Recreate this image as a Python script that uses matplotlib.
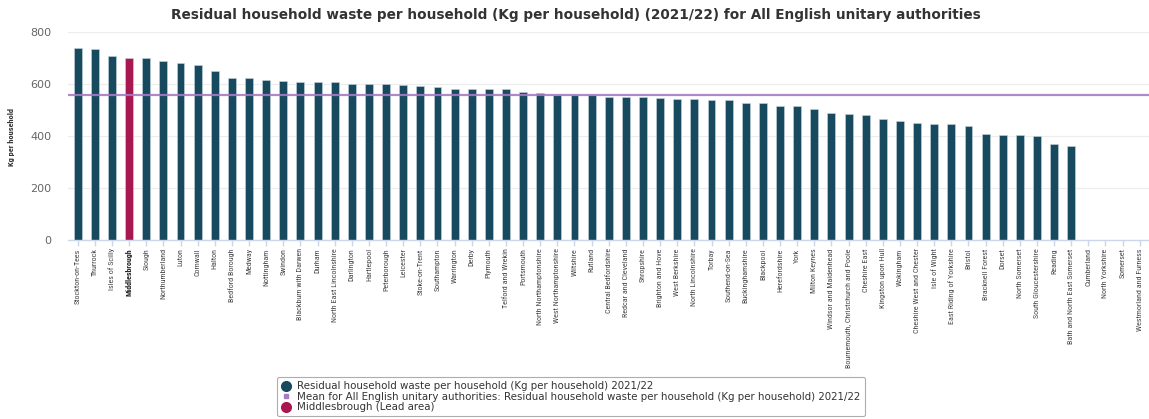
import numpy as np
import matplotlib
matplotlib.use("Agg")
import matplotlib.pyplot as plt
from matplotlib import font_manager as fm
from matplotlib.lines import Line2D

areas = [
    "Stockton-on-Tees", "Thurrock", "Isles of Scilly", "Middlesbrough", "Slough",
    "Northumberland", "Luton", "Cornwall", "Halton", "Bedford Borough", "Medway",
    "Nottingham", "Swindon", "Blackburn with Darwen", "Durham",
    "North East Lincolnshire", "Darlington", "Hartlepool", "Peterborough",
    "Leicester", "Stoke-on-Trent", "Southampton", "Warrington", "Derby",
    "Plymouth", "Telford and Wrekin", "Portsmouth", "North Northamptonshire",
    "West Northamptonshire", "Wiltshire", "Rutland", "Central Bedfordshire",
    "Redcar and Cleveland", "Shropshire", "Brighton and Hove", "West Berkshire",
    "North Lincolnshire", "Torbay", "Southend-on-Sea", "Buckinghamshire",
    "Blackpool", "Herefordshire", "York", "Milton Keynes",
    "Windsor and Maidenhead", "Bournemouth, Christchurch and Poole",
    "Cheshire East", "Kingston upon Hull", "Wokingham",
    "Cheshire West and Chester", "Isle of Wight", "East Riding of Yorkshire",
    "Bristol", "Bracknell Forest", "Dorset", "North Somerset",
    "South Gloucestershire", "Reading", "Bath and North East Somerset",
    "Cumberland", "North Yorkshire", "Somerset", "Westmorland and Furness",
]
waste_kg = [
    737, 735, 709, 701, 699, 688, 680, 673, 649, 624, 624, 615, 613, 609, 609,
    606, 601, 601, 601, 596, 592, 590, 582, 579, 579, 579, 571, 564, 558, 558,
    558, 551, 549, 549, 545, 541, 541, 538, 538, 528, 528, 517, 517, 503, 490,
    486, 479, 465, 456, 449, 446, 446, 440, 408, 405, 405, 400, 368, 360,
    np.nan, np.nan, np.nan, np.nan,
]
mean_value = 558
lead_area = "Middlesbrough"
y_ticks = [0, 200, 400, 600, 800]

title = ("Residual household waste per household (Kg per household) (2021/22) "
         "for All English unitary authorities")
legend_labels = [
    "Residual household waste per household (Kg per household) 2021/22",
    "Mean for All English unitary authorities: Residual household waste per household (Kg per household) 2021/22",
    "Middlesbrough (Lead area)",
]

BAR = "#17495f"
LEAD = "#a8174f"
MEAN = "#a67bc3"

names = {f.name for f in fm.fontManager.ttflist}
narrow = None
for cand in ["Liberation Sans Narrow", "Arial Narrow", "Roboto Condensed",
             "Open Sans Condensed"]:
    if cand in names:
        narrow = cand
        break
if narrow is None:
    narrow = "DejaVu Sans"
    tick_size = 4.5
else:
    tick_size = 5.8

fig = plt.figure(figsize=(11.49, 4.19), dpi=100)
ax = fig.add_axes([68 / 1149, 1 - 240 / 419, 1 - 68 / 1149, 208 / 419])

x = np.arange(len(areas))
colors = [LEAD if a == lead_area else BAR for a in areas]
ax.bar(x, waste_kg, width=0.46, color=colors, edgecolor="#c8d6de",
       linewidth=0.4, zorder=2)
ax.axhline(mean_value, color=MEAN, linewidth=1.6, alpha=0.9, zorder=3)

ax.set_xlim(-0.57, len(areas) - 0.46)
ax.set_ylim(0, 800)
ax.set_yticks(y_ticks)
ax.set_yticklabels([str(v) for v in y_ticks], fontsize=8, color="#666666")
ax.tick_params(axis="y", length=0, pad=12)
ax.grid(axis="y", color="#ececec", linewidth=0.8, zorder=0)
ax.set_axisbelow(True)

ax.set_xticks(x)
ax.set_xticklabels(areas, rotation=90, fontsize=tick_size, color="#444444",
                   family=narrow, fontstretch="condensed",
                   va="top", ha="center")
for lbl in ax.get_xticklabels():
    if lbl.get_text() == lead_area:
        lbl.set_fontweight("bold")
        lbl.set_color("#222222")
ax.tick_params(axis="x", length=4, color="#ccd6eb", width=1, pad=2)

for s in ["top", "right", "left"]:
    ax.spines[s].set_visible(False)
ax.spines["bottom"].set_color("#ccd6eb")
ax.spines["bottom"].set_linewidth(1)

fig.text(576 / 1149, 1 - 15 / 419, title, ha="center", va="center",
         fontsize=9.8, fontweight="bold", color="#333333")
fig.text(12 / 1149, 1 - 137 / 419, "Kg per household", rotation=90,
         ha="center", va="center", fontsize=6, fontweight="bold",
         color="#333333", family=narrow, fontstretch="condensed")

handles = [
    Line2D([], [], marker="o", linestyle="none", markersize=7,
           markerfacecolor=BAR, markeredgecolor=BAR),
    Line2D([], [], marker="s", linestyle="none", markersize=2.5,
           markerfacecolor=MEAN, markeredgecolor=MEAN),
    Line2D([], [], marker="o", linestyle="none", markersize=7,
           markerfacecolor=LEAD, markeredgecolor=LEAD),
]
leg = fig.legend(handles, legend_labels, loc="upper left",
                 bbox_to_anchor=(277 / 1149, 1 - 377 / 419),
                 fontsize=7.35, frameon=True, fancybox=True,
                 edgecolor="#999999", labelspacing=0.05, handlelength=1.0,
                 handletextpad=0.6, borderpad=0.4, borderaxespad=0)
for t in leg.get_texts():
    t.set_color("#333333")
leg.get_frame().set_linewidth(0.8)

fig.savefig("out.png", dpi=100, facecolor="white")
